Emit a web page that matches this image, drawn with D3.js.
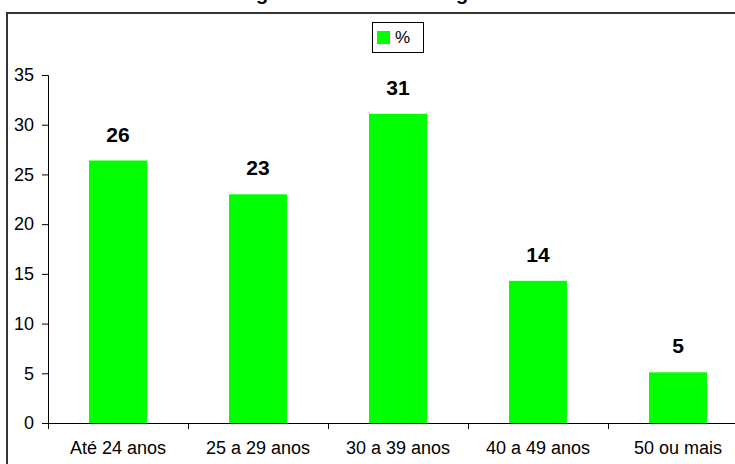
<!DOCTYPE html>
<html>
<head>
    <style>
        body {
            margin: 0;
            background: #ffffff;
            font-family: "Liberation Sans", Arial, Helvetica, sans-serif;
        }
        .tick text {
            font-size: 18px;
            font-family: "Liberation Sans", Arial, sans-serif;
            fill: #000;
        }
        .bar-label {
            font-size: 21px;
            font-weight: bold;
            fill: #000;
        }
        .title {
            font-size: 20px;
            font-weight: bold;
            fill: #000;
        }
    </style>
</head>
<body>
    <div id="chart"></div>
    <script src="https://cdnjs.cloudflare.com/ajax/libs/d3/7.8.5/d3.min.js"></script>
    <script>
        // chart data
        const categories = ["Até 24 anos", "25 a 29 anos", "30 a 39 anos", "40 a 49 anos", "50 ou mais"];
        const values = [26.4, 23.0, 31.1, 14.3, 5.1];
        const yTicks = [0, 5, 10, 15, 20, 25, 30, 35];
        const seriesName = "%";

        const width = 735, height = 464;
        const green = "#00ff00";

        const svg = d3.select("#chart")
            .append("svg")
            .attr("width", width)
            .attr("height", height);

        // title, mostly cut off above the frame (as in the original)
        svg.append("text")
            .attr("class", "title")
            .attr("x", 370)
            .attr("y", 0)
            .attr("text-anchor", "middle")
            .text("Perfil segundo a idade dos ingressantes");

        // outer frame (runs past the window on right and bottom)
        svg.append("rect")
            .attr("x", 7)
            .attr("y", 13)
            .attr("width", 780)
            .attr("height", 480)
            .attr("fill", "none")
            .attr("stroke", "#333")
            .attr("stroke-width", 2);

        const x = d3.scaleBand()
            .domain(categories)
            .range([48, 748])
            .padding(0);

        const y = d3.scaleLinear()
            .domain([0, 35])
            .range([423, 75]);

        const barW = x.bandwidth() * 0.414;

        // y axis
        const yAxis = svg.append("g")
            .attr("transform", "translate(48,0)")
            .call(d3.axisLeft(y).tickValues(yTicks).tickSize(6).tickPadding(8));
        yAxis.select(".domain").attr("stroke", "#000");
        yAxis.selectAll(".tick line").attr("stroke", "#000");

        // x axis: labels centred in bands, ticks at band edges
        const xAxis = svg.append("g")
            .attr("transform", `translate(0,${y(0)})`)
            .call(d3.axisBottom(x).tickSize(0).tickPadding(18));
        xAxis.select(".domain").remove();

        svg.append("line")
            .attr("x1", 42)
            .attr("x2", 748)
            .attr("y1", y(0) + 0.5)
            .attr("y2", y(0) + 0.5)
            .attr("stroke", "#000");

        svg.selectAll(".edge-tick")
            .data(categories.map(c => x(c)).concat([x.range()[1]]))
            .enter()
            .append("line")
            .attr("class", "edge-tick")
            .attr("x1", d => Math.round(d) + 0.5)
            .attr("x2", d => Math.round(d) + 0.5)
            .attr("y1", y(0))
            .attr("y2", y(0) + 6)
            .attr("stroke", "#000");

        // bars
        svg.selectAll(".bar")
            .data(values)
            .enter()
            .append("rect")
            .attr("class", "bar")
            .attr("x", (d, i) => x(categories[i]) + x.bandwidth() / 2 - barW / 2)
            .attr("y", d => y(d))
            .attr("width", barW)
            .attr("height", d => y(0) - y(d))
            .attr("fill", green);

        // value labels
        svg.selectAll(".bar-label")
            .data(values)
            .enter()
            .append("text")
            .attr("class", "bar-label")
            .attr("x", (d, i) => x(categories[i]) + x.bandwidth() / 2)
            .attr("y", d => y(d) - 19)
            .attr("text-anchor", "middle")
            .text(d => Math.round(d));

        // legend
        const legend = svg.append("g").attr("transform", "translate(372,22)");
        legend.append("rect")
            .attr("x", 0.5)
            .attr("y", 0.5)
            .attr("width", 51)
            .attr("height", 30)
            .attr("fill", "#fff")
            .attr("stroke", "#000");
        legend.append("rect")
            .attr("x", 5)
            .attr("y", 9)
            .attr("width", 13)
            .attr("height", 13)
            .attr("fill", green);
        legend.append("text")
            .attr("x", 23)
            .attr("y", 21)
            .style("font-size", "17px")
            .text(seriesName);
    </script>
</body>
</html>
